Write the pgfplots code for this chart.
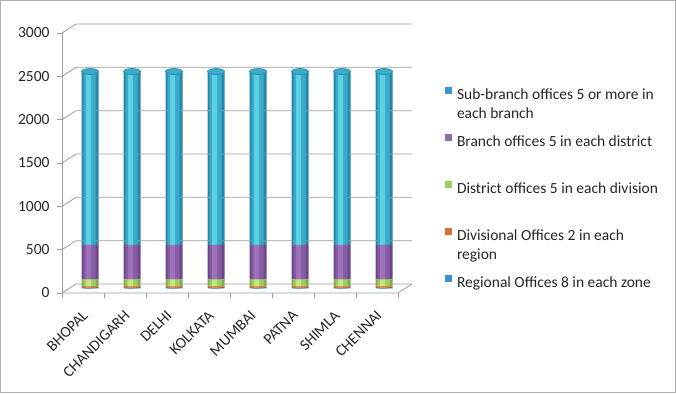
\documentclass[border=0pt]{standalone}
\usepackage{pgfplots}
\pgfplotsset{compat=1.18}
\usepackage{fontspec}
\setmainfont{Carlito}
\definecolor{sbd}{RGB}{38,136,170}
\definecolor{sbm}{RGB}{58,172,202}
\definecolor{sbl}{RGB}{90,208,226}
\definecolor{brd}{RGB}{110,72,136}
\definecolor{brm}{RGB}{134,92,164}
\definecolor{brl}{RGB}{158,114,186}
\definecolor{dsd}{RGB}{130,174,70}
\definecolor{dsm}{RGB}{160,204,96}
\definecolor{dsl}{RGB}{196,230,130}
\definecolor{dvd}{RGB}{184,92,40}
\definecolor{dvm}{RGB}{212,124,64}
\definecolor{dvl}{RGB}{230,150,92}
\definecolor{rgd}{RGB}{50,120,180}
\definecolor{gridc}{RGB}{155,155,155}
\definecolor{legsub}{RGB}{58,150,210}
\definecolor{legbr}{RGB}{140,108,172}
\definecolor{legds}{RGB}{156,204,98}
\definecolor{legdv}{RGB}{216,112,48}
\definecolor{legrg}{RGB}{60,146,206}
\pgfdeclareplotmark{cyltop}{\pgfpathellipse{\pgfpointorigin}{\pgfqpoint{8.5pt}{0pt}}{\pgfqpoint{0pt}{3pt}}\pgfusepathqfillstroke}
\pgfplotsset{
  geom/.style={at={(62pt,100pt)}, anchor=south west,
    scale only axis, width=336pt, height=260pt, clip=false,
    xmin=-0.5, xmax=7.5, ymin=0, ymax=3000},
  layer/.style={geom, hide axis, ybar stacked, bar width=#1},
}
\newcommand{\two}[2]{\begin{tabular}[t]{@{}l@{}}#1\\#2\end{tabular}}
\begin{document}
\begin{tikzpicture}
\useasboundingbox (0,0) rectangle (676pt,393pt);
\draw[gridc!80, line width=1pt] (0.5pt,0.5pt) rectangle (675.5pt,392.5pt);
% ---- main axis: frame, ticks, legend, dark base of the cylinders
\begin{axis}[
  geom,
  ybar stacked, bar width=17pt,
  axis line style={draw=none},
  xtick={0,...,7},
  xticklabels={BHOPAL,CHANDIGARH,DELHI,KOLKATA,MUMBAI,PATNA,SHIMLA,CHENNAI},
  xtick style={draw=none},
  x tick label style={rotate=45, anchor=north east, font=\fontsize{15.5}{17}\selectfont, color=black!85, inner sep=1pt, xshift=-8pt, yshift=-6pt},
  ytick={0,500,...,3000}, ytick pos=left,
  ytick style={draw=gridc, line width=0.8pt},
  tick align=outside, major tick length=5pt,
  y tick label style={font=\fontsize{15.5}{17}\selectfont, color=black!85, xshift=-4pt},
  /pgf/number format/assume math mode=true,
  /pgf/number format/1000 sep={},
  scaled y ticks=false,
  legend style={at={(1.1399,0.792)}, anchor=north west, draw=none, fill=none,
    inner sep=0pt, outer sep=0pt,
    font=\fontsize{15.5}{19}\selectfont, text=black!85, row sep=10.5pt,
    nodes={inner sep=0pt, text height=11pt, text depth=24pt, anchor=base west}},
  reverse legend,
]
\pgfplotsinvokeforeach{0,500,...,3000}{
  \draw[gridc, line width=0.8pt] (axis cs:-0.5,#1) -- ++(14pt,9pt) -- ++(336pt,0pt);
}
\draw[gridc, line width=0.8pt] (axis cs:-0.5,0) -- (axis cs:7.5,0) -- ++(14pt,9pt);
\draw[gridc, line width=0.8pt] (axis cs:-0.5,0) -- (axis cs:-0.5,3000);
\pgfplotsinvokeforeach{-0.5,0.5,...,7.5}{
  \draw[gridc, line width=0.8pt] (axis cs:#1,0) -- ++(0pt,-5pt);
}
\addplot[draw=none, fill=rgd, bar shift=7pt, yshift=4.5pt,
  legend image code/.code={\fill[legrg] (0pt,1pt) rectangle (7pt,8pt);}]
  coordinates {(0,8) (1,8) (2,8) (3,8) (4,8) (5,8) (6,8) (7,8)};
\addlegendentry{\hspace{5pt}Regional Offices 8 in each zone}
\addplot[draw=none, fill=dvd, bar shift=7pt, yshift=4.5pt,
  legend image code/.code={\fill[legdv] (0pt,1pt) rectangle (7pt,8pt);}]
  coordinates {(0,16) (1,16) (2,16) (3,16) (4,16) (5,16) (6,16) (7,16)};
\addlegendentry{\hspace{5pt}\two{Divisional Offices 2 in each}{region}}
\addplot[draw=none, fill=dsd, bar shift=7pt, yshift=4.5pt,
  legend image code/.code={\fill[legds] (0pt,1pt) rectangle (7pt,8pt);}]
  coordinates {(0,80) (1,80) (2,80) (3,80) (4,80) (5,80) (6,80) (7,80)};
\addlegendentry{\hspace{5pt}District offices 5 in each division}
\addplot[draw=none, fill=brd, bar shift=7pt, yshift=4.5pt,
  legend image code/.code={\fill[legbr] (0pt,1pt) rectangle (7pt,8pt);}]
  coordinates {(0,400) (1,400) (2,400) (3,400) (4,400) (5,400) (6,400) (7,400)};
\addlegendentry{\hspace{5pt}Branch offices 5 in each district}
\addplot[draw=none, fill=sbd, bar shift=7pt, yshift=4.5pt,
  legend image code/.code={\fill[legsub] (0pt,1pt) rectangle (7pt,8pt);}]
  coordinates {(0,2000) (1,2000) (2,2000) (3,2000) (4,2000) (5,2000) (6,2000) (7,2000)};
\addlegendentry{\hspace{5pt}\two{Sub-branch offices 5 or more in}{each branch}}
\end{axis}
% ---- middle shade layer
\begin{axis}[layer=12pt]
\addplot[draw=none, fill=rgd, bar shift=6.5pt, yshift=4.5pt] coordinates {(0,8) (1,8) (2,8) (3,8) (4,8) (5,8) (6,8) (7,8)};
\addplot[draw=none, fill=dvm, bar shift=6.5pt, yshift=4.5pt] coordinates {(0,16) (1,16) (2,16) (3,16) (4,16) (5,16) (6,16) (7,16)};
\addplot[draw=none, fill=dsm, bar shift=6.5pt, yshift=4.5pt] coordinates {(0,80) (1,80) (2,80) (3,80) (4,80) (5,80) (6,80) (7,80)};
\addplot[draw=none, fill=brm, bar shift=6.5pt, yshift=4.5pt] coordinates {(0,400) (1,400) (2,400) (3,400) (4,400) (5,400) (6,400) (7,400)};
\addplot[draw=none, fill=sbm, bar shift=6.5pt, yshift=4.5pt] coordinates {(0,2000) (1,2000) (2,2000) (3,2000) (4,2000) (5,2000) (6,2000) (7,2000)};
\end{axis}
% ---- light highlight layer
\begin{axis}[layer=5pt]
\addplot[draw=none, fill=rgd, bar shift=5.5pt, yshift=4.5pt] coordinates {(0,8) (1,8) (2,8) (3,8) (4,8) (5,8) (6,8) (7,8)};
\addplot[draw=none, fill=dvl, bar shift=5.5pt, yshift=4.5pt] coordinates {(0,16) (1,16) (2,16) (3,16) (4,16) (5,16) (6,16) (7,16)};
\addplot[draw=none, fill=dsl, bar shift=5.5pt, yshift=4.5pt] coordinates {(0,80) (1,80) (2,80) (3,80) (4,80) (5,80) (6,80) (7,80)};
\addplot[draw=none, fill=brl, bar shift=5.5pt, yshift=4.5pt] coordinates {(0,400) (1,400) (2,400) (3,400) (4,400) (5,400) (6,400) (7,400)};
\addplot[draw=none, fill=sbl, bar shift=5.5pt, yshift=4.5pt] coordinates {(0,2000) (1,2000) (2,2000) (3,2000) (4,2000) (5,2000) (6,2000) (7,2000)};
\end{axis}
% ---- cylinder tops (total 2504 per city)
\begin{axis}[geom, hide axis]
\addplot[only marks, mark=cyltop, mark options={fill=sbm, draw=sbd, line width=0.6pt}, xshift=7pt, yshift=4.5pt]
  coordinates {(0,2504) (1,2504) (2,2504) (3,2504) (4,2504) (5,2504) (6,2504) (7,2504)};
\end{axis}
\end{tikzpicture}
\end{document}
